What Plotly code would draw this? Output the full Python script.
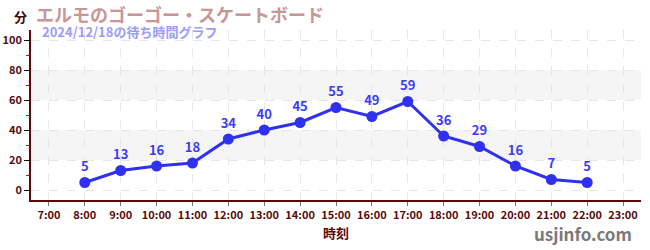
import plotly.graph_objects as go

hours = [8, 9, 10, 11, 12, 13, 14, 15, 16, 17, 18, 19, 20, 21, 22]
waits = [5, 13, 16, 18, 34, 40, 45, 55, 49, 59, 36, 29, 16, 7, 5]
tick_hours = list(range(7, 24))
tick_labels = [f"{h}:00" for h in tick_hours]
title = "エルモのゴーゴー・スケートボード"
subtitle = "2024/12/18の待ち時間グラフ"

FONT = "Noto Sans CJK JP"
AX = "#5a0a0a"

fig = go.Figure()
fig.add_trace(go.Scatter(
    x=hours, y=waits, mode="lines+markers+text",
    text=[str(v) for v in waits], textposition="top center",
    textfont=dict(color="#3b3bf5", size=13, family=FONT, weight="bold"),
    line=dict(color="#3030f0", width=3),
    marker=dict(color="#3030f0", size=11),
    cliponaxis=False, hoverinfo="skip",
))

shapes = []
for y0, y1 in [(20, 40), (60, 80)]:
    shapes.append(dict(type="rect", xref="paper", x0=0, x1=1, yref="y", y0=y0, y1=y1,
                       fillcolor="#f5f5f5", line=dict(width=0), layer="below"))
fig.update_layout(
    width=650, height=250,
    margin=dict(l=31, r=9, t=30, b=50),
    plot_bgcolor="white", paper_bgcolor="white",
    showlegend=False, shapes=shapes,
    font=dict(family=FONT),
    xaxis=dict(
        range=[6.5, 23.5], tickmode="array", tickvals=tick_hours, ticktext=tick_labels,
        showline=True, linecolor=AX, linewidth=1.5, automargin=False,
        ticks="outside", ticklen=4, tickcolor="#777",
        tickfont=dict(size=11, color=AX, weight="bold"),
        showgrid=True, gridcolor="#e6e6e6", griddash="dash", zeroline=False,
        title=dict(text="時刻", font=dict(size=13, color=AX, weight="bold"), standoff=8),
    ),
    yaxis=dict(
        range=[-6.67, 106.67], tickvals=[0, 20, 40, 60, 80, 100],
        showline=True, linecolor=AX, linewidth=1.5, automargin=False,
        ticks="outside", ticklen=5, tickcolor="#000",
        tickfont=dict(size=11, color=AX, weight="bold"),
        showgrid=True, gridcolor="#e6e6e6", griddash="dash", zeroline=False,
        minor=dict(tickvals=[10, 30, 50, 70, 90], ticks="outside", ticklen=3,
                   tickcolor="#e00000", showgrid=False),
    ),
    annotations=[
        dict(text=title, xref="paper", yref="paper", x=0, y=1, xshift=3, yshift=16,
             xanchor="left", yanchor="middle", showarrow=False,
             font=dict(size=18, color="#c89696", weight="bold")),
        dict(text=subtitle, xref="paper", yref="paper", x=0, y=1, xshift=9, yshift=-1,
             xanchor="left", yanchor="middle", showarrow=False,
             font=dict(size=13, color="#9c9cf5", weight="bold")),
        dict(text="分", xref="paper", yref="paper", x=0, y=1, xshift=-11, yshift=14,
             xanchor="center", yanchor="middle", showarrow=False,
             font=dict(size=13, color="#3a0a0a", weight="bold")),
        dict(text="usjinfo.com", xref="paper", yref="paper", x=1, y=0, xshift=-7, yshift=-33,
             xanchor="right", yanchor="middle", showarrow=False,
             font=dict(size=17, color="#7a7a7a", weight="bold")),
    ],
)
fig.write_html("out.html")
